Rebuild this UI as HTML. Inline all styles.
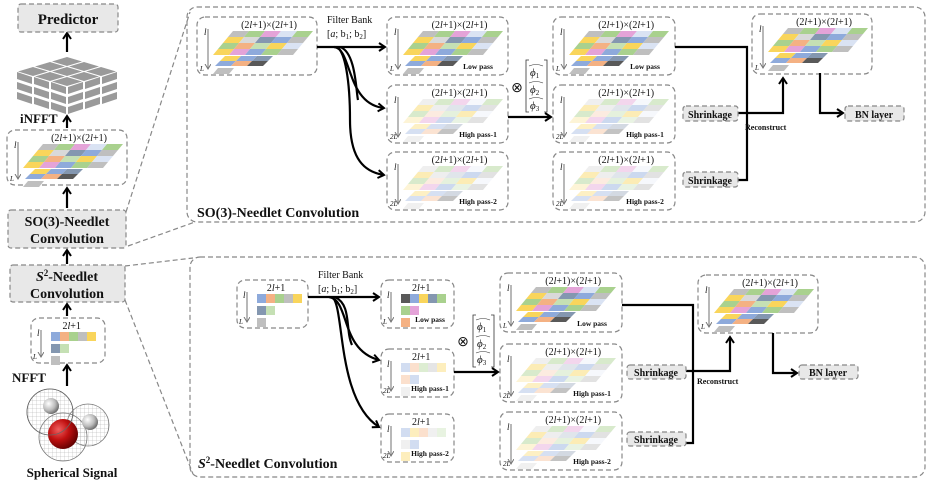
<!DOCTYPE html>
<html><head><meta charset="utf-8"><style>
html,body{margin:0;padding:0;background:#fff}
svg{display:block}
text{font-family:"Liberation Serif",serif;fill:#111}
.b{font-weight:bold}
</style></head><body>
<svg id="s" width="934" height="485" viewBox="0 0 934 485" xmlns="http://www.w3.org/2000/svg">
<defs>
<marker id="ah" markerWidth="10" markerHeight="10" refX="7" refY="5" orient="auto" markerUnits="userSpaceOnUse">
<polyline points="1,1 7,5 1,9" fill="none" stroke="#000" stroke-width="2"/>
</marker>
<marker id="sa" markerWidth="8" markerHeight="8" refX="5" refY="3" orient="auto" markerUnits="userSpaceOnUse">
<path d="M0,0 L5,3 L0,6" fill="none" stroke="#777" stroke-width="1"/>
</marker>
<radialGradient id="rg" cx="0.35" cy="0.35" r="0.7"><stop offset="0" stop-color="#f06060"/><stop offset="0.5" stop-color="#c01010"/><stop offset="1" stop-color="#600000"/></radialGradient>
<radialGradient id="wg" cx="0.35" cy="0.35" r="0.7"><stop offset="0" stop-color="#fff"/><stop offset="0.6" stop-color="#bbb"/><stop offset="1" stop-color="#666"/></radialGradient>
<pattern id="mesh" width="4" height="4" patternUnits="userSpaceOnUse"><path d="M0,0H4M0,0V4" stroke="#aaa" stroke-width="0.5" fill="none"/></pattern>
</defs>
<g id="shapes"></g>
<g id="lines" fill="none" stroke="#000" stroke-width="2.2">
<line x1="67" y1="52" x2="67" y2="33" marker-end="url(#ah)"/>
<line x1="67" y1="128" x2="67" y2="116" marker-end="url(#ah)"/>
<line x1="67" y1="208" x2="67" y2="188" marker-end="url(#ah)"/>
<line x1="67" y1="264" x2="67" y2="250" marker-end="url(#ah)"/>
<line x1="67" y1="316" x2="67" y2="304" marker-end="url(#ah)"/>
<line x1="67" y1="386" x2="67" y2="365" marker-end="url(#ah)"/>
<line x1="317" y1="47" x2="385" y2="47" marker-end="url(#ah)"/>
<path d="M334,47 C352,48 346,104 384,108" marker-end="url(#ah)"/>
<path d="M337,47 C345,52 350,80 350,120 C350,160 365,172 384,175" marker-end="url(#ah)"/>
<path d="M340,47 C356,52 356,92 358,100" />
<line x1="508" y1="117" x2="551" y2="117" marker-end="url(#ah)"/>
<polyline points="675,47 747,47 747,180 738,180"/>
<polyline points="738,113 783,113 783,78" marker-end="url(#ah)"/>
<polyline points="820,73 820,113 843,113" marker-end="url(#ah)"/>
<line x1="308" y1="297" x2="379" y2="297" marker-end="url(#ah)"/>
<path d="M329,297 C350,300 340,350 379,360" marker-end="url(#ah)"/>
<path d="M332,297 C345,305 336,400 379,427" marker-end="url(#ah)"/>
<path d="M335,297 C352,305 345,330 352,345"/>
<line x1="454" y1="372" x2="498" y2="372" marker-end="url(#ah)"/>
<polyline points="622,305 693,305 693,443 686,443"/>
<polyline points="686,371 730,371 730,337" marker-end="url(#ah)"/>
<polyline points="773,333 773,373 797,373" marker-end="url(#ah)"/>
</g>
<g fill="none" stroke="#888" stroke-width="1.2" stroke-dasharray="5,3">
<rect x="187" y="7" width="738" height="215" rx="10"/>
<rect x="190" y="257" width="735" height="220" rx="10"/>
<line x1="126" y1="212" x2="190" y2="12"/>
<line x1="128" y1="246" x2="195" y2="222"/>
<line x1="125" y1="266" x2="193" y2="258"/>
<line x1="125" y1="300" x2="193" y2="474"/>
</g>
<g fill="#e8e8e8" stroke="#888" stroke-width="1.2" stroke-dasharray="5,3">
<rect x="18" y="4" width="100" height="28" rx="3"/>
<rect x="8" y="210" width="118" height="38" rx="3"/>
<rect x="10" y="265" width="115" height="37" rx="3"/>
<rect x="683" y="106" width="55" height="15" rx="3"/>
<rect x="683" y="172" width="55" height="15" rx="3"/>
<rect x="845" y="106" width="59" height="15" rx="3"/>
<rect x="627" y="365" width="59" height="14" rx="3"/>
<rect x="627" y="432" width="59" height="14" rx="3"/>
<rect x="799" y="365" width="59" height="14" rx="3"/>
</g>
<g>
<circle cx="50" cy="412" r="23" fill="url(#mesh)" stroke="#777" stroke-width="0.8"/>
<circle cx="88" cy="425" r="21" fill="url(#mesh)" stroke="#777" stroke-width="0.8"/>
<circle cx="63" cy="437" r="24" fill="url(#mesh)" stroke="#777" stroke-width="0.8"/>
<circle cx="63" cy="434" r="15" fill="url(#rg)"/>
<circle cx="51" cy="406" r="8" fill="url(#wg)"/>
<circle cx="90" cy="422" r="8" fill="url(#wg)"/>
<circle cx="50" cy="412" r="23" fill="none" stroke="#666" stroke-width="0.8"/>
</g>
<text x="68" y="24" text-anchor="middle" class="b" font-size="15">Predictor</text>
<text x="20" y="123" class="b" font-size="13">iNFFT</text>
<text x="67" y="226" text-anchor="middle" class="b" font-size="14">SO(3)-Needlet</text>
<text x="67" y="243" text-anchor="middle" class="b" font-size="14">Convolution</text>
<text x="67" y="281" text-anchor="middle" class="b" font-size="14"><tspan font-style="italic">S</tspan><tspan font-size="9" dy="-5">2</tspan><tspan dy="5">-Needlet</tspan></text>
<text x="67" y="298" text-anchor="middle" class="b" font-size="14">Convolution</text>
<text x="12" y="382" class="b" font-size="13">NFFT</text>
<text x="72" y="477" text-anchor="middle" class="b" font-size="13">Spherical Signal</text>
<text x="197" y="217" class="b" font-size="14">SO(3)-Needlet Convolution</text>
<text x="198" y="468" class="b" font-size="14"><tspan font-style="italic">S</tspan><tspan font-size="9" dy="-5">2</tspan><tspan dy="5">-Needlet Convolution</tspan></text>
<text x="327" y="23" font-size="10">Filter Bank</text>
<text x="327" y="37" font-size="10">[<tspan font-style="italic">a</tspan>; b<tspan font-size="7" dy="2">1</tspan><tspan dy="-2">; b</tspan><tspan font-size="7" dy="2">2</tspan><tspan dy="-2">]</tspan></text>
<text x="318" y="278" font-size="10">Filter Bank</text>
<text x="318" y="292" font-size="10">[<tspan font-style="italic">a</tspan>; b<tspan font-size="7" dy="2">1</tspan><tspan dy="-2">; b</tspan><tspan font-size="7" dy="2">2</tspan><tspan dy="-2">]</tspan></text>
<text x="517" y="92" text-anchor="middle" font-size="14">⊗</text>
<text x="463" y="346" text-anchor="middle" font-size="14">⊗</text>
<g font-size="11" font-style="italic">
<text x="530" y="76">ϕ<tspan font-size="7" dy="2" font-style="normal">1</tspan></text>
<text x="530" y="93">ϕ<tspan font-size="7" dy="2" font-style="normal">2</tspan></text>
<text x="530" y="109">ϕ<tspan font-size="7" dy="2" font-style="normal">3</tspan></text>
<text x="477" y="330">ϕ<tspan font-size="7" dy="2" font-style="normal">1</tspan></text>
<text x="477" y="347">ϕ<tspan font-size="7" dy="2" font-style="normal">2</tspan></text>
<text x="477" y="363">ϕ<tspan font-size="7" dy="2" font-style="normal">3</tspan></text>
</g>
<g fill="none" stroke="#333" stroke-width="0.8">
<polyline points="529,60 526,60 526,112 529,112"/><polyline points="544,60 547,60 547,112 544,112"/>
<path d="M529,66 q7,-3 14,0 M529,83 q7,-3 14,0 M529,99 q7,-3 14,0" stroke-width="0.6"/>
<polyline points="476,315 473,315 473,367 476,367"/><polyline points="491,315 494,315 494,367 491,367"/>
<path d="M476,320 q7,-3 14,0 M476,337 q7,-3 14,0 M476,353 q7,-3 14,0" stroke-width="0.6"/>
</g>
<g class="b" font-size="10" text-anchor="middle">
<text x="710" y="118">Shrinkage</text>
<text x="710" y="184">Shrinkage</text>
<text x="874" y="118">BN layer</text>
<text x="656" y="376">Shrinkage</text>
<text x="656" y="443">Shrinkage</text>
<text x="828" y="376">BN layer</text>
</g>
<text x="745" y="130" class="b" font-size="8">Reconstruct</text>
<text x="697" y="384" class="b" font-size="8">Reconstruct</text>
<g id="tt"></g>
</svg>
<script>
var NS="http://www.w3.org/2000/svg",G=document.getElementById('shapes'),T=document.getElementById('tt');
function el(n,a,p){var e=document.createElementNS(NS,n);for(var k in a)e.setAttribute(k,a[k]);(p||G).appendChild(e);return e}
function tx(x,y,s,fs,ex){var e=el('text',Object.assign({x:x,y:y,'font-size':fs},ex||{}),T);e.innerHTML=s;return e}
var C={y:'#f9d55b',g:'#a9d18e',p:'#e4a3d8',b:'#8eaadb',r:'#bfbfbf',o:'#f4b183',s:'#8497b0',l:'#dae3f3',w:'#d9d9d9',d:'#595959',e:'#c5e0b4'};
var rowsTop=['rgplg','ywsbr','goeyl','ypbgr'],rowsLow=['ybs','bod'];
function dbox(x,y,w,h){el('rect',{x:x,y:y,width:w,height:h,rx:8,fill:'none',stroke:'#888','stroke-width':1.2,'stroke-dasharray':'5,3'})}
function axis(x,y1,y2,bot){el('line',{x1:x,y1:y1,x2:x,y2:y2,stroke:'#888','stroke-width':1.2,'marker-end':'url(#sa)'});
 tx(x-4,y1+6,'l',9,{'font-style':'italic'});tx(x-8,y2+2,bot,7,{'font-style':'italic'});}
function cell(x,y,w,h,sk,c,op){el('polygon',{points:(x+sk)+','+y+' '+(x+sk+w)+','+y+' '+(x+w)+','+(y+h)+' '+x+','+(y+h),fill:C[c],opacity:op})}
function so3(x,y,w,h,lab,pale,bot){dbox(x,y,w,h);axis(x+11,y+12,y+h-6,bot||'L');
 tx(x+w*0.6,y+11,'(2<tspan font-style="italic">l</tspan>+1)×(2<tspan font-style="italic">l</tspan>+1)',10,{'text-anchor':'middle'});
 var op=pale?0.45:1,cw=16,ch=6,sk=5,gx=x+36,gy=y+14;
 for(var r=0;r<4;r++)for(var c=0;c<5;c++)cell(gx-(r+1)*sk+c*cw,gy+r*ch,cw,ch,sk,rowsTop[r][c],(pale&&(r+c)%3==0)?0.25:op);
 var gy2=gy+4*ch+1,gx2=x+28;
 for(r=0;r<2;r++)for(c=0;c<3;c++)cell(gx2-(r+1)*sk+c*cw,gy2+r*5,cw,5,sk,rowsLow[r][c],op*(pale?0.8:1));
 cell(x+16,gy2+12,cw,6,sk,pale?'w':'r',pale?0.4:1);
 if(lab)tx(x+w-30,y+h-6,lab,7.5,{'font-weight':'bold','text-anchor':'middle'});}
function s2(x,y,w,h,lab,pale,bot,rows){dbox(x,y,w,h);axis(x+10,y+12,y+h-6,bot||'L');
 tx(x+w*0.55,y+11,'2<tspan font-style="italic">l</tspan>+1',10,{'text-anchor':'middle'});
 var op=pale?0.4:1,gx=x+20,gy=y+14,sz=9;
 rows.forEach(function(r,i){for(var c=0;c<r.length;c++)el('rect',{x:gx+c*sz,y:gy+i*(sz+3),width:sz,height:sz,fill:C[r[c]],opacity:op})});
 if(lab)tx(x+w-24,y+h-6,lab,7.5,{'font-weight':'bold','text-anchor':'middle'});}
(function(){var cx=67,top=56,g='#9a9a9a';
 for(var i=0;i<3;i++)for(var j=0;j<3;j++){var ax=cx+(i-j)*17,ay=top+(i+j)*5;
  el('polygon',{points:ax+','+(ay+1)+' '+(ax+15)+','+(ay+5.5)+' '+ax+','+(ay+10)+' '+(ax-15)+','+(ay+5.5),fill:g})}
 for(var k=0;k<3;k++)for(var i=0;i<3;i++){var lx=cx-51+i*17,ly=top+16+i*5+k*10;
  el('polygon',{points:(lx+1)+','+ly+' '+(lx+16)+','+(ly+5)+' '+(lx+16)+','+(ly+12)+' '+(lx+1)+','+(ly+7),fill:g});
  var rx=cx+1+i*17,ry=top+31-i*5+k*10;
  el('polygon',{points:rx+','+ry+' '+(rx+15)+','+(ry-5)+' '+(rx+15)+','+(ry+2)+' '+rx+','+(ry+7),fill:g})}
})();
so3(7,130,120,55,null,false);
so3(197,17,120,58,null,false);
so3(387,17,121,58,'Low pass',false);
so3(387,85,121,58,'High pass-1',true,'2L');
so3(387,152,121,58,'High pass-2',true,'2L');
so3(553,17,122,58,'Low pass',false);
so3(553,85,122,58,'High pass-1',true,'2L');
so3(553,152,122,58,'High pass-2',true,'2L');
so3(752,14,120,60,null,false);
so3(500,273,122,59,'Low pass',false);
so3(500,344,122,58,'High pass-1',true,'2L');
so3(500,412,122,58,'High pass-2',true,'2L');
so3(698,275,120,58,null,false);
s2(31,318,74,45,null,false,'L',['bogry','se','r']);
s2(237,280,71,48,null,false,'L',['bogry','se','r']);
s2(381,280,73,48,'Low pass',false,'L',['dbysg','gp','o']);
s2(381,349,73,48,'High pass-1',true,'2L',['bogry','ob','w']);
s2(381,414,73,48,'High pass-2',true,'2L',['byowe','wb','y']);
</script>
</body></html>
